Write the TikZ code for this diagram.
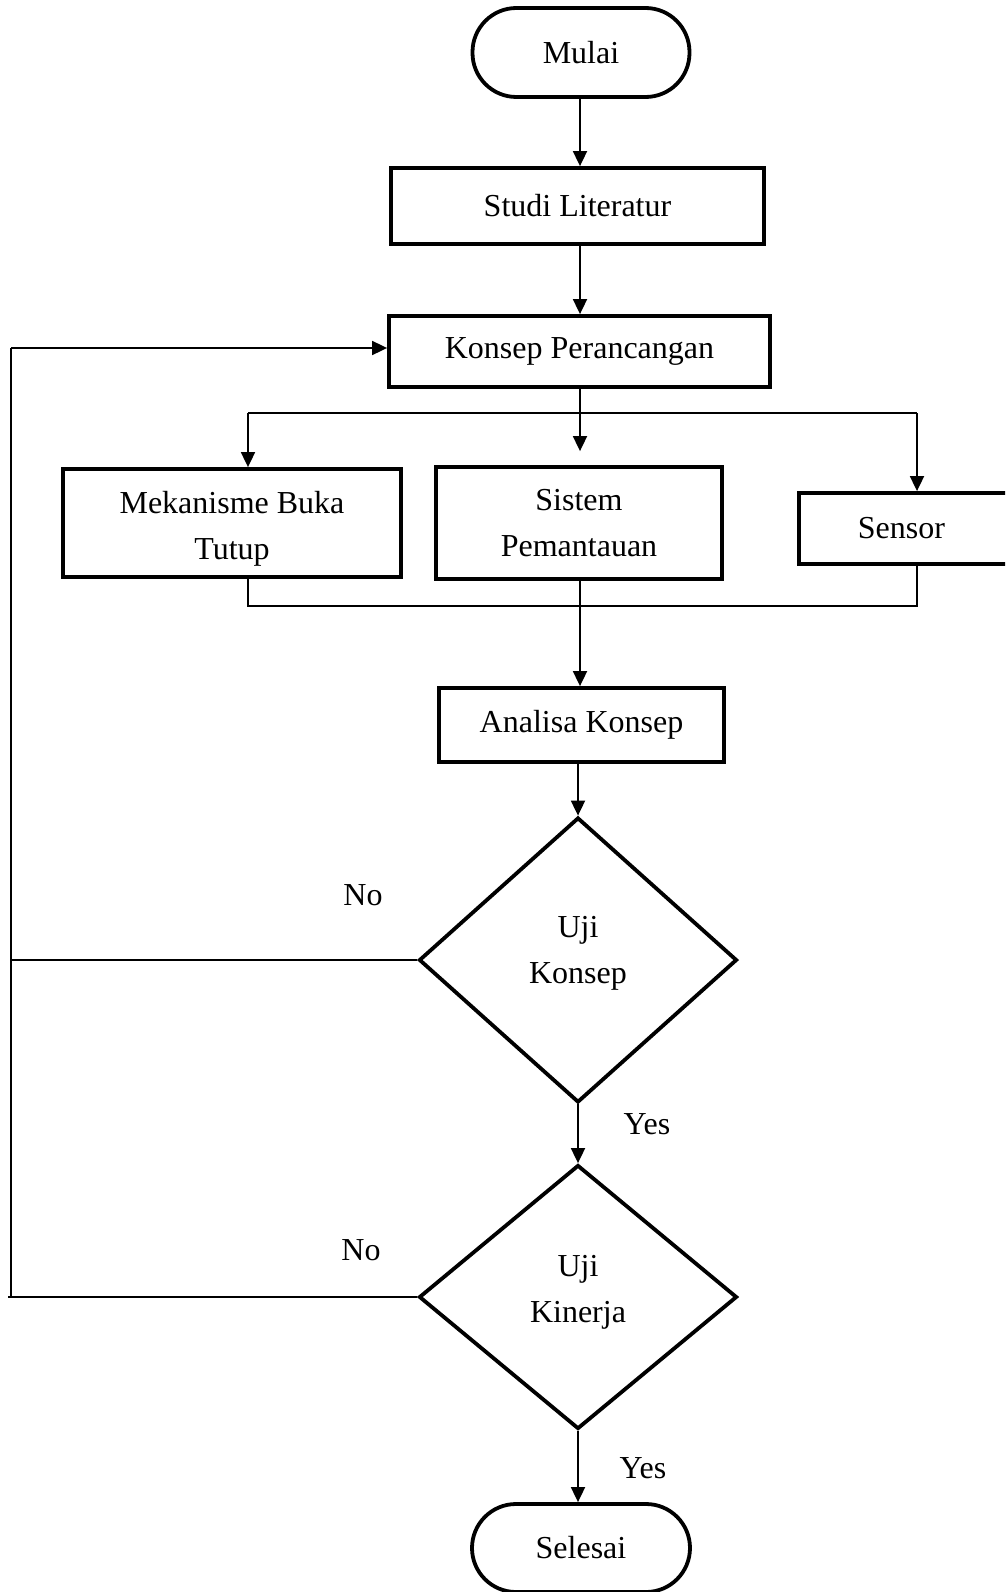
\documentclass[tikz,border=0pt]{standalone}
\usepackage{fontspec}
\setmainfont{Liberation Serif}
\usetikzlibrary{arrows.meta,shapes.geometric}
\begin{document}
\begin{tikzpicture}[x=1pt,y=-1pt,
  every node/.style={font=\fontsize{32}{46}\selectfont, align=center, inner sep=0pt},
  box/.style={draw, line width=3.8pt, rectangle, fill=white},
  term/.style={draw, line width=3.8pt, rectangle, rounded corners=44pt, fill=white},
  dec/.style={draw, line width=3.8pt, diamond, fill=white},
  conn/.style={line width=1.8pt},
  arr/.style={conn, -{Triangle[length=15pt,width=14pt]}},
  lbl/.style={}
]
\path[use as bounding box, fill=white] (0,0) rectangle (1005,1592);
\clip (0,0) rectangle (1005,1592);

\node[term, minimum width=217pt, minimum height=89pt] (mulai) at (581,52.5) {Mulai};
\node[box, minimum width=373pt, minimum height=76pt] (studi) at (577.5,206) {Studi Literatur};
\node[box, minimum width=381pt, minimum height=71pt] (konsep) at (579.5,351.5) {Konsep Perancangan};
\node[box, minimum width=338pt, minimum height=108pt] (meka) at (232,523) {\raisebox{-6pt}[\height][\depth]{\parbox{330pt}{\centering Mekanisme Buka\\Tutup}}};
\node[box, minimum width=286pt, minimum height=112pt] (sistem) at (579,523) {Sistem\\Pemantauan};
\node[box, minimum width=214pt, minimum height=71pt, text width=214pt] (sensor) at (906,528.5) {\hspace*{-9pt}Sensor};
\node[box, minimum width=285pt, minimum height=74pt] (analisa) at (581.5,725) {Analisa Konsep};
\node[dec, minimum width=318pt, minimum height=285pt] (uk) at (578,960) {\raisebox{7pt}[\height][\depth]{\parbox{120pt}{\centering Uji\\Konsep}}};
\node[dec, minimum width=318pt, minimum height=264pt] (ukin) at (578,1297) {\raisebox{5pt}[\height][\depth]{\parbox{120pt}{\centering Uji\\Kinerja}}};
\node[term, minimum width=218pt, minimum height=88pt] (selesai) at (581,1548) {Selesai};

\node[lbl] (no1) at (363,895) {No};
\node[lbl] (yes1) at (647,1124) {Yes};
\node[lbl] (no2) at (361,1250) {No};
\node[lbl] (yes2) at (643,1468) {Yes};

% coordinates
\coordinate (bl) at (248,413);
\coordinate (bm) at (580,413);
\coordinate (br) at (917,413);
\coordinate (ml) at (248,606);
\coordinate (mm) at (580,606);
\coordinate (mr) at (917,606);
\coordinate (lt) at (11,348);
\coordinate (lx) at (11,0);
\coordinate (lxe) at (8,0);

\draw[arr] (mulai.south -| 580,0) -- (studi.north -| 580,0);
\draw[arr] (studi.south -| 580,0) -- (konsep.north -| 580,0);
\draw[conn] (konsep.south -| bm) -- (bm);
\draw[conn] (bl) -- (br);
\draw[arr] (bl) -- (meka.north -| bl);
\draw[arr, shorten >=14pt] (bm) -- (sistem.north -| bm);
\draw[arr] (br) -- (sensor.north -| br);

\draw[conn] (meka.south -| ml) -- (ml) -- (mr) -- (sensor.south -| mr);
\draw[arr] (sistem.south -| mm) -- (analisa.north -| mm);

\draw[arr] (analisa.south -| uk.north) -- (uk.north);
\draw[arr] (uk.south) -- (ukin.north);
\draw[arr] (ukin.south) -- (selesai.north -| ukin.south);

\draw[conn] (uk.west) -- (uk.west -| lx);
\draw[conn] (ukin.west) -- (ukin.west -| lxe);
\draw[line width=1.4pt] (ukin.west -| lx) -- (lt);
\draw[arr] (lt) -- (konsep.west |- lt);
\end{tikzpicture}
\end{document}
